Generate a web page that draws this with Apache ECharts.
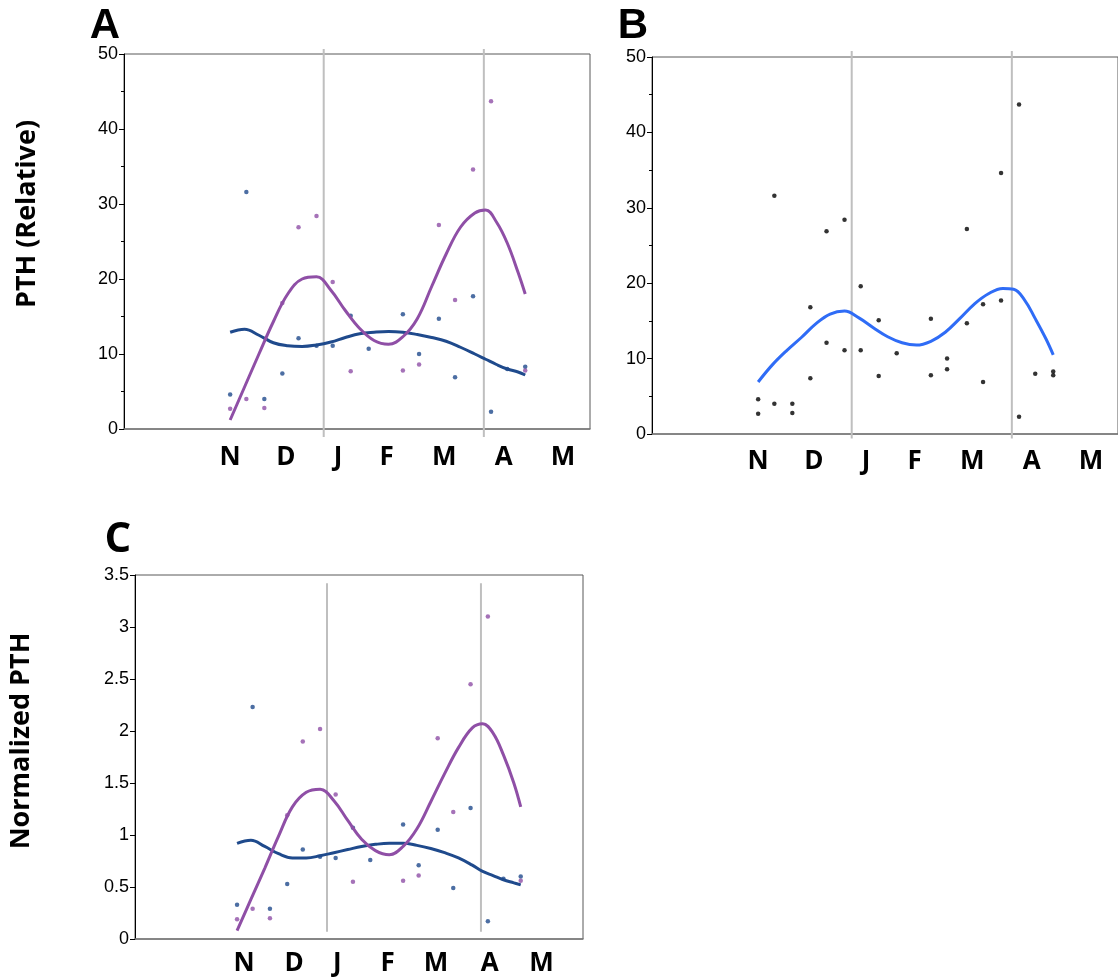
<!DOCTYPE html>
<html>
<head>
<meta charset="utf-8">
<script src="https://cdn.jsdelivr.net/npm/echarts@6/dist/echarts.min.js"></script>
<style>
html,body{margin:0;padding:0;background:#fff;}
#chart{width:1118px;height:979px;}
</style>
</head>
<body>
<div id="chart"></div>
<script>
// ---- data (x = days from 1 November) ----
const sampleDays = [-2, 7, 17, 27, 36, 46, 55, 65, 75, 94, 103, 114, 123, 133, 143, 152, 162];
const blueA   = [4.6, 31.6, 4.0, 7.4, 12.1, 11.1, 11.1, 15.1, 10.7, 15.3, 10.0, 14.7, 6.9, 17.7, 2.3, 8.0, 8.3];
const purpleA = [2.7, 4.0, 2.8, 16.8, 26.9, 28.4, 19.6, 7.7, null, 7.8, 8.6, 27.2, 17.2, 34.6, 43.7, null, 7.8];
const blueC   = [0.33, 2.23, 0.29, 0.53, 0.86, 0.79, 0.78, 1.07, 0.76, 1.10, 0.71, 1.05, 0.49, 1.26, 0.17, 0.58, 0.60];
const purpleC = [0.19, 0.29, 0.20, 1.19, 1.90, 2.02, 1.39, 0.55, null, 0.56, 0.61, 1.93, 1.22, 2.45, 3.10, null, 0.56];

const curveDays      = [-2, 6, 14, 22, 30, 38, 46, 54, 62, 70, 78, 86, 94, 102, 110, 118, 126, 134, 140, 146, 152, 158, 162];
const purpleCurveA   = [1.2, 5.6, 10.0, 14.3, 18.0, 20.0, 20.3, 18.5, 15.8, 13.4, 11.8, 11.3, 12.3, 14.7, 19.0, 23.3, 26.9, 28.8, 29.2, 27.6, 24.8, 20.9, 18.0];
const blueCurveA     = [12.9, 13.3, 12.5, 11.5, 11.1, 11.0, 11.2, 11.6, 12.2, 12.7, 12.9, 13.0, 12.9, 12.6, 12.2, 11.7, 10.9, 10.0, 9.3, 8.6, 8.0, 7.6, 7.2];
const pooledCurveB   = [6.9, 9.2, 11.1, 12.8, 14.6, 15.9, 16.3, 15.4, 14.1, 12.9, 12.1, 11.8, 12.3, 13.5, 15.3, 17.2, 18.6, 19.3, 19.2, 17.8, 15.3, 12.6, 10.5];
const purpleCurveC   = [0.08, 0.38, 0.68, 0.99, 1.27, 1.41, 1.44, 1.33, 1.14, 0.96, 0.85, 0.81, 0.89, 1.06, 1.32, 1.59, 1.84, 2.03, 2.07, 1.98, 1.77, 1.50, 1.27];
const blueCurveC     = [0.92, 0.95, 0.89, 0.82, 0.78, 0.78, 0.80, 0.83, 0.86, 0.89, 0.91, 0.92, 0.92, 0.90, 0.87, 0.83, 0.78, 0.71, 0.65, 0.61, 0.57, 0.54, 0.52];

const monthLabels     = ['N', 'D', 'J', 'F', 'M', 'A', 'M'];
const monthTickDaysAB = [-2, 29, 58, 85, 117, 150, 183];
const monthTickDaysC  = [2, 31, 56, 85, 113, 144, 174];
const markerDays      = [50, 139];   // solstice / equinox reference lines

// ---- helpers ----
function pairs(xs, ys) {
  const out = [];
  xs.forEach((x, i) => { if (ys[i] != null) out.push([x, ys[i]]); });
  return out;
}
const PURPLE = '#8f4fa6';
const NAVY = '#1f4a8c';
const BRIGHT = '#2f6cf6';
const GREYLINE = '#bfbfbf';
const boldFont = '"Open Sans", Lato, sans-serif';
const numFont = '"Liberation Sans", Arial, sans-serif';

function xAxisCfg(idx, ticks, margin) {
  return {
    type: 'value', gridIndex: idx, min: -61, max: 198,
    axisLine: { show: true, onZero: false, lineStyle: { color: '#7a7a7a', width: 1.5 } },
    axisTick: { show: false },
    splitLine: { show: false },
    axisLabel: {
      show: true,
      customValues: ticks,
      formatter: v => { const i = ticks.indexOf(v); return i >= 0 ? monthLabels[i] : ''; },
      fontFamily: boldFont, fontWeight: 'bold', fontSize: 26,
      color: '#000', margin: margin
    }
  };
}
function yAxisCfg(idx, max, interval, minor) {
  return {
    type: 'value', gridIndex: idx, min: 0, max: max, interval: interval,
    axisLine: { show: true, onZero: false, lineStyle: { color: '#000', width: 1 } },
    axisTick: { show: true, length: 5, lineStyle: { color: '#000' } },
    minorTick: { show: minor, splitNumber: 2, length: 3, lineStyle: { color: '#000' } },
    splitLine: { show: false },
    axisLabel: { fontFamily: numFont, fontSize: 18, color: '#000', margin: 6 }
  };
}
function vline(xi, yi, day, y0, y1) {
  return {
    type: 'line', xAxisIndex: xi, yAxisIndex: yi, data: [[day, y0], [day, y1]],
    showSymbol: false, symbol: 'none', clip: false, silent: true, z: 1,
    lineStyle: { color: GREYLINE, width: 2 }
  };
}
function scatter(xi, data, color, size) {
  return { type: 'scatter', xAxisIndex: xi, yAxisIndex: xi, data: data, symbolSize: size,
           itemStyle: { color: color }, z: 3, silent: true };
}
function curve(xi, ys, color) {
  return { type: 'line', xAxisIndex: xi, yAxisIndex: xi, data: pairs(curveDays, ys), smooth: 0.4,
           showSymbol: false, symbol: 'none', lineStyle: { color: color, width: 3 }, z: 4, silent: true };
}

const series = [];
// Panel A
markerDays.forEach(d => series.push(vline(0, 0, d, -1.07, 50.67)));
series.push(scatter(0, pairs(sampleDays, blueA), NAVY, 4.5));
series.push(scatter(0, pairs(sampleDays, purpleA), PURPLE, 4.5));
series.push(curve(0, blueCurveA, NAVY));
series.push(curve(0, purpleCurveA, PURPLE));
// Panel B (pooled data)
markerDays.forEach(d => series.push(vline(1, 1, d, -0.6, 50.8)));
series.push(scatter(1, pairs(sampleDays, blueA).concat(pairs(sampleDays, purpleA)), '#000', 4.5));
series.push(curve(1, pooledCurveB, BRIGHT));
// Panel C
markerDays.forEach(d => series.push(vline(2, 2, d, 0.07, 3.42)));
series.push(scatter(2, pairs(sampleDays, blueC), NAVY, 4.5));
series.push(scatter(2, pairs(sampleDays, purpleC), PURPLE, 4.5));
series.push(curve(2, blueCurveC, NAVY));
series.push(curve(2, purpleCurveC, PURPLE));

const option = {
  animation: false,
  backgroundColor: '#fff',
  grid: [
    { left: 124, top: 54, width: 466, height: 375, show: true, borderColor: '#595959', borderWidth: 1, containLabel: false },
    { left: 652, top: 57, width: 467, height: 377, show: true, borderColor: '#595959', borderWidth: 1, containLabel: false },
    { left: 135, top: 575, width: 448, height: 364, show: true, borderColor: '#595959', borderWidth: 1, containLabel: false }
  ],
  xAxis: [xAxisCfg(0, monthTickDaysAB, 16), xAxisCfg(1, monthTickDaysAB, 15), xAxisCfg(2, monthTickDaysC, 12)],
  yAxis: [yAxisCfg(0, 50, 10, true), yAxisCfg(1, 50, 10, true), yAxisCfg(2, 3.5, 0.5, false)],
  series: series,
  graphic: [
    { type: 'text', x: 105, y: 26, style: { text: 'A', font: 'bold 42px ' + numFont, fill: '#000', textAlign: 'center', textVerticalAlign: 'middle' } },
    { type: 'text', x: 633, y: 26, style: { text: 'B', font: 'bold 42px ' + numFont, fill: '#000', textAlign: 'center', textVerticalAlign: 'middle' } },
    { type: 'text', x: 118, y: 540, style: { text: 'C', font: 'bold 42px ' + boldFont, fill: '#000', textAlign: 'center', textVerticalAlign: 'middle' } },
    { type: 'text', x: 27, y: 214, rotation: Math.PI / 2, style: { text: 'PTH (Relative)', font: 'bold 27px ' + boldFont, fill: '#000', textAlign: 'center', textVerticalAlign: 'middle' } },
    { type: 'text', x: 21, y: 741, rotation: Math.PI / 2, style: { text: 'Normalized PTH', font: 'bold 27px ' + boldFont, fill: '#000', textAlign: 'center', textVerticalAlign: 'middle' } }
  ]
};

const chart = echarts.init(document.getElementById('chart'), null, { renderer: 'canvas' });
chart.setOption(option);
</script>
</body>
</html>
